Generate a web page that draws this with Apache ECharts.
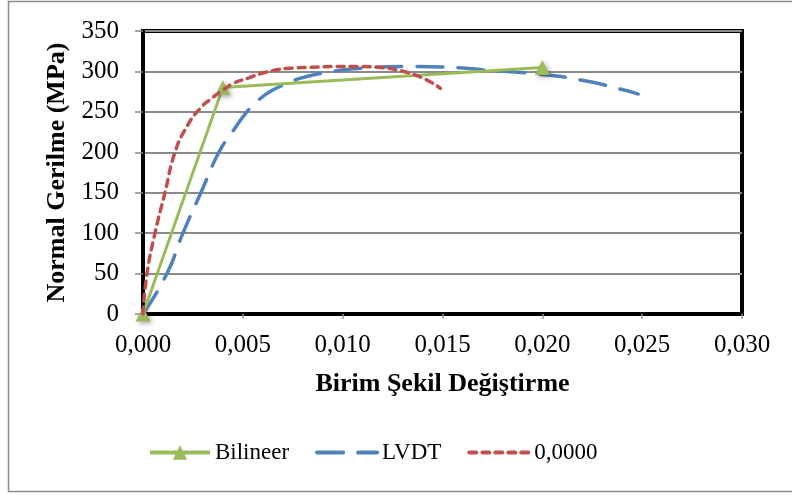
<!DOCTYPE html>
<html>
<head>
<meta charset="utf-8">
<script src="https://cdn.jsdelivr.net/npm/echarts@6/dist/echarts.min.js"></script>
<style>
  html, body { margin: 0; padding: 0; background: #fff; }
  #chart { width: 792px; height: 495px; }
</style>
</head>
<body>
<div id="chart"></div>
<script>
// strain / stress pairs
const bilineerData = [[0, 0], [0.004, 280], [0.020, 305]];

const lvdtData = [
    [0, 0], [0.0012, 50], [0.002, 100], [0.0029, 150], [0.0038, 200],
    [0.0045, 226], [0.0052, 250], [0.0058, 265], [0.0065, 277], [0.0072, 285],
    [0.0078, 291], [0.0086, 296], [0.0095, 300], [0.0109, 304], [0.0132, 306],
    [0.0154, 305], [0.0175, 301], [0.0197, 297], [0.022, 289], [0.0241, 277],
    [0.0248, 272]
];

const refData = [
    [0, 0], [0.0002, 50], [0.0006, 100], [0.0011, 150], [0.0016, 200],
    [0.0022, 232], [0.00285, 254], [0.0034, 266], [0.0039, 275], [0.0045, 285],
    [0.0053, 292], [0.006, 298], [0.0067, 302], [0.0074, 304], [0.0084, 305],
    [0.0095, 306], [0.011, 306], [0.0119, 305], [0.0127, 302], [0.0132, 299],
    [0.0137, 295], [0.0144, 287], [0.0149, 279]
];

const seriesNames = ['Bilineer', 'LVDT', '0,0000'];
const xTitle = 'Birim Şekil Değiştirme';
const yTitle = 'Normal Gerilme (MPa)';

const font = '"Liberation Serif", "Times New Roman", serif';
const hideDot = { opacity: 0 };

const chart = echarts.init(document.getElementById('chart'), null, { renderer: 'canvas' });

chart.setOption({
    animation: false,
    backgroundColor: '#fff',
    textStyle: { fontFamily: font },
    graphic: [{
        type: 'rect',
        shape: { x: 8.5, y: 1.5, width: 800, height: 490 },
        style: { fill: 'none', stroke: '#8c8c8c', lineWidth: 1.5 },
        silent: true
    }],
    grid: {
        left: 143, right: 50, top: 31, bottom: 181,
        show: true,
        borderColor: '#000',
        borderWidth: 4,
        backgroundColor: 'transparent'
    },
    legend: {
        top: 436,
        left: 143,
        itemWidth: 60,
        itemHeight: 18,
        itemGap: 26,
        lineStyle: { width: 4 },
        textStyle: { fontFamily: font, fontSize: 23, color: '#000' },
        data: [
            { name: seriesNames[0] },
            { name: seriesNames[1], itemStyle: hideDot },
            { name: seriesNames[2], itemStyle: hideDot }
        ]
    },
    xAxis: {
        type: 'value',
        min: 0, max: 0.03, interval: 0.005,
        name: xTitle,
        nameLocation: 'middle',
        nameGap: 57,
        nameTextStyle: { fontFamily: font, fontSize: 26, fontWeight: 'bold', color: '#000' },
        axisLine: { show: true, lineStyle: { color: '#000', width: 3 } },
        axisTick: { show: true, length: 5, lineStyle: { color: '#999', width: 1.5 } },
        axisLabel: {
            margin: 19, fontSize: 25, color: '#000', fontFamily: font,
            formatter: v => v.toFixed(3).replace('.', ',')
        },
        splitLine: { show: false }
    },
    yAxis: {
        type: 'value',
        min: 0, max: 350, interval: 50,
        name: yTitle,
        nameLocation: 'middle',
        nameGap: 67,
        nameTextStyle: { fontFamily: font, fontSize: 26, fontWeight: 'bold', color: '#000' },
        axisLine: { show: true, lineStyle: { color: '#000', width: 3 } },
        axisTick: { show: true, length: 8, lineStyle: { color: '#888', width: 1.5 } },
        axisLabel: { margin: 24, fontSize: 25, color: '#000', fontFamily: font },
        splitLine: { show: true, lineStyle: { color: '#8a8a8a', width: 2 } }
    },
    series: [
        {
            name: seriesNames[0],
            type: 'line',
            data: bilineerData,
            symbol: 'triangle',
            symbolSize: 15,
            showSymbol: true,
            lineStyle: { color: '#9bbb59', width: 3 },
            itemStyle: {
                color: '#9bbb59', borderWidth: 0,
                shadowColor: 'rgba(0,0,0,0.35)', shadowBlur: 5, shadowOffsetX: 2, shadowOffsetY: 2
            },
            z: 3
        },
        {
            name: seriesNames[1],
            type: 'line',
            data: lvdtData,
            smooth: 0.5,
            showSymbol: false,
            symbol: 'none',
            lineStyle: { color: '#4f81bd', width: 3.5, type: [26, 15], cap: 'round' },
            itemStyle: { color: '#4f81bd' },
            z: 2
        },
        {
            name: seriesNames[2],
            type: 'line',
            data: refData,
            smooth: 0.5,
            showSymbol: false,
            symbol: 'none',
            lineStyle: { color: '#c0504d', width: 3.5, type: [7, 6], cap: 'round' },
            itemStyle: { color: '#c0504d' },
            z: 4
        }
    ]
});
</script>
</body>
</html>
